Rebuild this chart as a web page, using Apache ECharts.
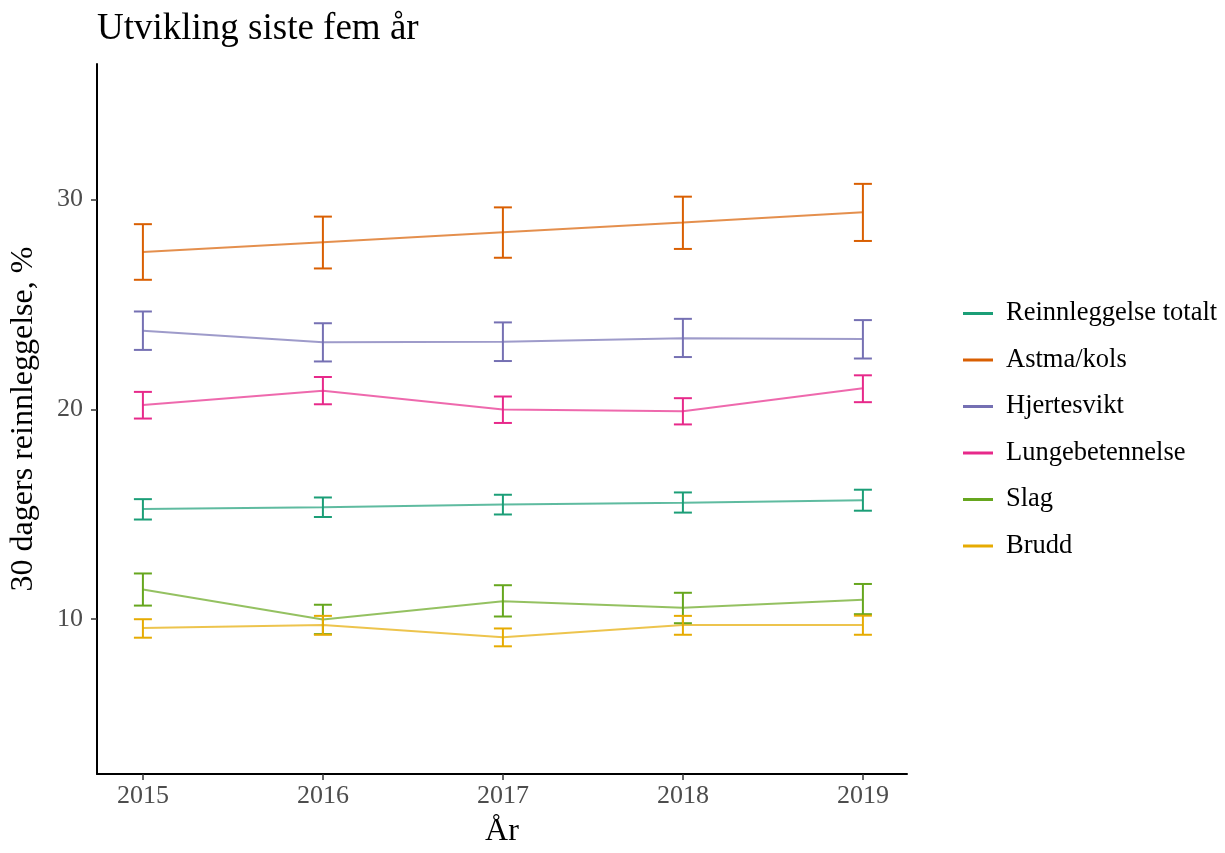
<!DOCTYPE html>
<html lang="no">
<head>
	<meta charset="UTF-8">
	<title>Utvikling siste fem år</title>
	<script src="https://cdn.jsdelivr.net/npm/echarts@6/dist/echarts.min.js"></script>
	<style>
		html,body{height:100%;margin:0;background:#fff;overflow:hidden;}
	</style>
</head>
<body>
	<div id="chart" style="width:1225px; height:853px;"></div>
	<script>
	// data
	var years = [2015, 2016, 2017, 2018, 2019];
	var names = ['Reinnleggelse totalt', 'Astma/kols', 'Hjertesvikt', 'Lungebetennelse', 'Slag', 'Brudd'];
	var colors = ['#1B9E77', '#D95F02', '#7570B3', '#E7298A', '#66A61E', '#E6AB02'];

	var totalVal = [15.25, 15.33, 15.46, 15.55, 15.67];
	var totalLo  = [14.75, 14.87, 14.99, 15.08, 15.17];
	var totalHi  = [15.72, 15.80, 15.93, 16.04, 16.17];

	var astmaVal = [27.49, 27.96, 28.43, 28.90, 29.39];
	var astmaLo  = [26.17, 26.71, 27.22, 27.64, 28.02];
	var astmaHi  = [28.82, 29.18, 29.62, 30.13, 30.74];

	var hjerteVal = [23.74, 23.19, 23.22, 23.38, 23.35];
	var hjerteLo  = [22.83, 22.28, 22.30, 22.49, 22.42];
	var hjerteHi  = [24.66, 24.10, 24.14, 24.31, 24.25];

	var lungeVal = [20.20, 20.88, 19.99, 19.91, 21.00];
	var lungeLo  = [19.56, 20.24, 19.35, 19.28, 20.34];
	var lungeHi  = [20.83, 21.54, 20.61, 20.53, 21.62];

	var slagVal = [11.42, 9.99, 10.86, 10.55, 10.93];
	var slagLo  = [10.65, 9.29, 10.13, 9.81, 10.24];
	var slagHi  = [12.18, 10.69, 11.62, 11.26, 11.68];

	var bruddVal = [9.58, 9.72, 9.14, 9.72, 9.72];
	var bruddLo  = [9.12, 9.26, 8.71, 9.26, 9.26];
	var bruddHi  = [10.00, 10.16, 9.56, 10.16, 10.17];

	var yTicks = [10, 20, 30];

	var vals = [totalVal, astmaVal, hjerteVal, lungeVal, slagVal, bruddVal];
	var los = [totalLo, astmaLo, hjerteLo, lungeLo, slagLo, bruddLo];
	var his = [totalHi, astmaHi, hjerteHi, lungeHi, slagHi, bruddHi];

	var font = '"Liberation Serif", "DejaVu Serif", serif';

	function hexAlpha(hex, a) {
		var r = parseInt(hex.substr(1, 2), 16), g = parseInt(hex.substr(3, 2), 16), b = parseInt(hex.substr(5, 2), 16);
		return 'rgba(' + r + ',' + g + ',' + b + ',' + a + ')';
	}

	// vertical bar with caps
	function errRender(params, api) {
		var x = api.value(0);
		var top = api.coord([x, api.value(2)]);
		var bot = api.coord([x, api.value(1)]);
		var w = 9;
		var st = { stroke: api.visual('color'), lineWidth: 2 };
		return {
			type: 'group',
			children: [
				{ type: 'line', shape: { x1: top[0], y1: top[1], x2: bot[0], y2: bot[1] }, style: st },
				{ type: 'line', shape: { x1: top[0] - w, y1: top[1], x2: top[0] + w, y2: top[1] }, style: st },
				{ type: 'line', shape: { x1: bot[0] - w, y1: bot[1], x2: bot[0] + w, y2: bot[1] }, style: st }
			]
		};
	}

	var series = [];
	// lines first
	for (var i = 0; i < names.length; i++) {
		var pts = [];
		for (var j = 0; j < years.length; j++) pts.push([years[j], vals[i][j]]);
		series.push({
			name: names[i],
			type: 'line',
			data: pts,
			symbol: 'none',
			itemStyle: { color: colors[i] },
			lineStyle: { color: hexAlpha(colors[i], 0.7), width: 2 },
			z: 2,
			animation: false
		});
	}
	// error bars on top
	for (var i = 0; i < names.length; i++) {
		var eb = [];
		for (var j = 0; j < years.length; j++) eb.push([years[j], los[i][j], his[i][j]]);
		series.push({
			name: names[i] + ' KI',
			type: 'custom',
			renderItem: errRender,
			data: eb,
			itemStyle: { color: colors[i] },
			encode: { x: 0, y: [1, 2] },
			z: 3,
			animation: false
		});
	}

	var legendData = [];
	for (var i = 0; i < names.length; i++) {
		legendData.push({ name: names[i], itemStyle: { color: colors[i] } });
	}

	var option = {
		backgroundColor: '#fff',
		animation: false,
		title: {
			text: 'Utvikling siste fem år',
			left: 92,
			top: 6,
			textStyle: { fontFamily: font, fontSize: 37, fontWeight: 'normal', color: '#000' }
		},
		legend: {
			orient: 'vertical',
			left: 958,
			top: 295,
			itemWidth: 30,
			itemHeight: 3,
			itemGap: 19.5,
			icon: 'rect',
			data: legendData,
			textStyle: { fontFamily: font, fontSize: 26.5, color: '#000', padding: [0, 0, 0, 8] }
		},
		grid: { left: 97, right: 318, top: 64, bottom: 72, containLabel: false },
		xAxis: {
			type: 'value',
			min: 2014.745,
			max: 2019.245,
			name: 'År',
			nameLocation: 'middle',
			nameGap: 42,
			nameTextStyle: { fontFamily: font, fontSize: 32, color: '#000' },
			axisLine: { show: true, lineStyle: { color: '#000', width: 2 } },
			axisTick: { show: true, customValues: years, length: 6, lineStyle: { color: '#333', width: 1.5 } },
			axisLabel: { customValues: years, fontFamily: font, fontSize: 26, color: '#4D4D4D', margin: 9,
				formatter: function (v) { return String(v); } },
			splitLine: { show: false }
		},
		yAxis: {
			type: 'value',
			min: 2.627,
			max: 36.45,
			name: '30 dagers reinnleggelse, %',
			nameLocation: 'middle',
			nameRotate: 90,
			nameGap: 57,
			nameTextStyle: { fontFamily: font, fontSize: 32, color: '#000' },
			axisLine: { show: true, lineStyle: { color: '#000', width: 2 } },
			axisTick: { show: true, customValues: yTicks, length: 6, lineStyle: { color: '#333', width: 1.5 } },
			axisLabel: { customValues: yTicks, fontFamily: font, fontSize: 26, color: '#4D4D4D', margin: 14 },
			splitLine: { show: false }
		},
		series: series
	};

	var myChart = echarts.init(document.getElementById('chart'));
	myChart.setOption(option);
	</script>
</body>
</html>
